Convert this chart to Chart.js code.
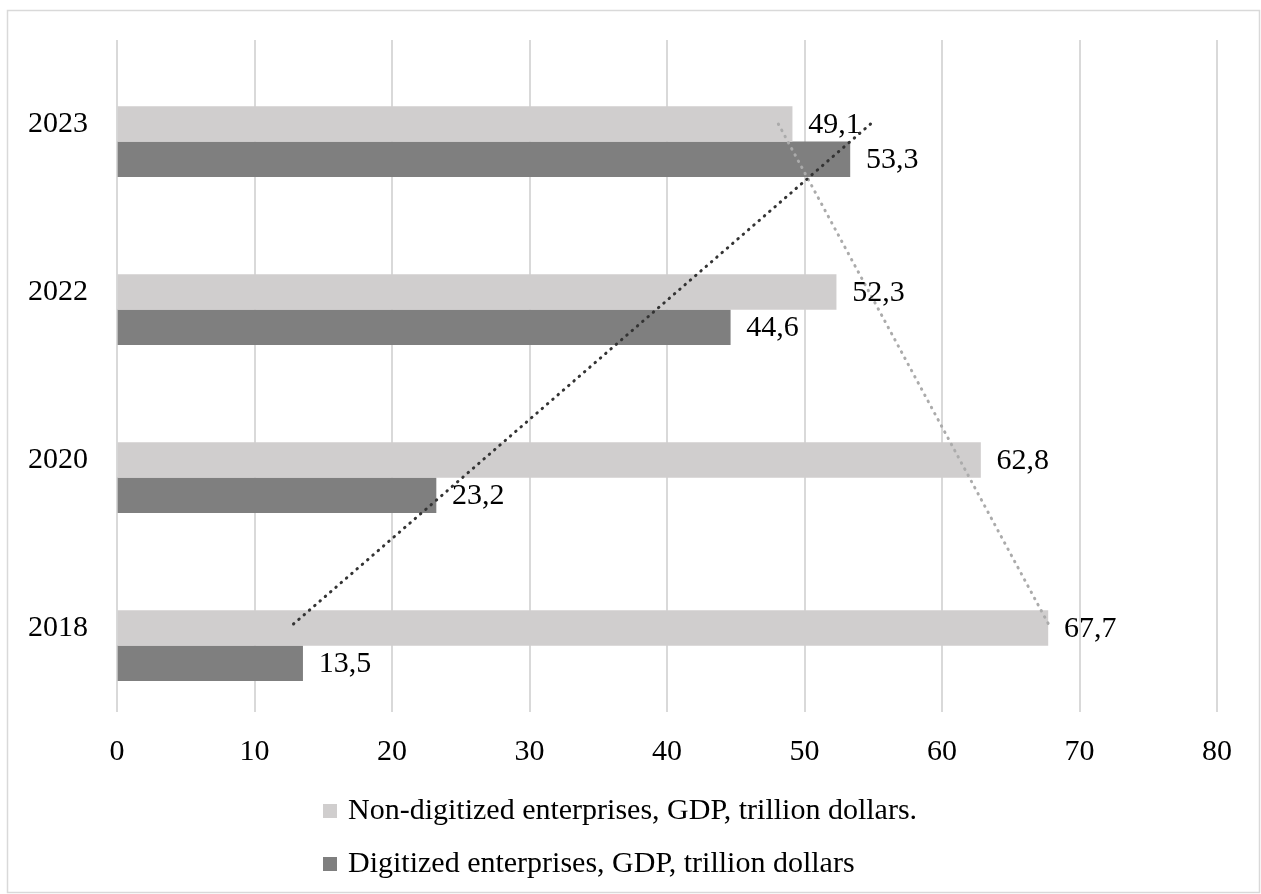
<!DOCTYPE html>
<html>
<head>
<meta charset="utf-8">
<script src="https://cdn.jsdelivr.net/npm/chart.js@4"></script>
<style>
  html, body { margin: 0; padding: 0; background: #fff; }
  canvas { display: block; }
</style>
</head>
<body>
<canvas id="gdpChart" width="1261" height="894"></canvas>
<script>
// Données du graphique
const years = ['2023', '2022', '2020', '2018'];
const nonDigitized = [49.1, 52.3, 62.8, 67.7];
const digitized = [53.3, 44.6, 23.2, 13.5];
// tendances (début 2023, fin 2018)
const nonDigitizedTrend = [48.1, 67.9];
const digitizedTrend = [54.8, 12.5];
const xTicks = [0, 10, 20, 30, 40, 50, 60, 70, 80];

const labelNonDigitized = 'Non-digitized enterprises, GDP, trillion dollars.';
const labelDigitized = 'Digitized enterprises, GDP, trillion dollars';

const FONT = "'Liberation Serif', 'Times New Roman', serif";
const barShift = 0.21; // décalage de la 2e barre (en catégories)

const frameAndLabels = {
    id: 'frameAndLabels',
    beforeDraw(chart) {
        const c = chart.ctx;
        c.save();
        c.fillStyle = '#fff';
        c.fillRect(0, 0, chart.width, chart.height);
        c.strokeStyle = '#d9d9d9';
        c.lineWidth = 1.5;
        c.strokeRect(7.5, 10.5, chart.width - 9, chart.height - 12);
        c.restore();
    },
    afterDatasetsDraw(chart) {
        const c = chart.ctx;
        c.save();
        c.font = '30px ' + FONT;
        c.fillStyle = '#000';
        c.textBaseline = 'middle';
        c.textAlign = 'left';
        chart.data.datasets.forEach((ds, i) => {
            if (ds.type !== 'bar') return;
            chart.getDatasetMeta(i).data.forEach((bar, j) => {
                const txt = ds.data[j].x.toFixed(1).replace('.', ',');
                c.fillText(txt, bar.x + 16, bar.y + 1);
            });
        });
        c.restore();
    },
    afterDraw(chart) {
        // légende alignée à gauche, une ligne par série
        const c = chart.ctx;
        const area = chart.chartArea;
        c.save();
        c.font = '30px ' + FONT;
        c.textBaseline = 'alphabetic';
        c.textAlign = 'left';
        let row = 0;
        chart.data.datasets.forEach(ds => {
            if (ds.type !== 'bar') return;
            const base = area.bottom + 107 + row * 53;
            c.fillStyle = ds.backgroundColor;
            c.fillRect(323, base - 15, 14, 14);
            c.fillStyle = '#000';
            c.fillText(ds.label, 348, base);
            row++;
        });
        c.restore();
    }
};

const ctx = document.getElementById('gdpChart').getContext('2d');
new Chart(ctx, {
    data: {
        datasets: [
            {
                type: 'line',
                label: 'trend digitized',
                data: [{ x: digitizedTrend[0], y: 0 }, { x: digitizedTrend[1], y: years.length - 1 }],
                borderColor: '#333333',
                borderWidth: 3,
                borderDash: [0.5, 6.5],
                borderCapStyle: 'round',
                pointRadius: 0,
                order: 0
            },
            {
                type: 'line',
                label: 'trend non-digitized',
                data: [{ x: nonDigitizedTrend[0], y: 0 }, { x: nonDigitizedTrend[1], y: years.length - 1 }],
                borderColor: '#ababab',
                borderWidth: 3,
                borderDash: [0.5, 6.5],
                borderCapStyle: 'round',
                pointRadius: 0,
                order: 0
            },
            {
                type: 'bar',
                label: labelNonDigitized,
                data: nonDigitized.map((v, i) => ({ x: v, y: i })),
                backgroundColor: '#d0cece',
                barThickness: 35,
                grouped: false,
                order: 1
            },
            {
                type: 'bar',
                label: labelDigitized,
                data: digitized.map((v, i) => ({ x: v, y: i + barShift })),
                backgroundColor: '#7f7f7f',
                barThickness: 35,
                grouped: false,
                order: 1
            }
        ]
    },
    options: {
        indexAxis: 'y',
        responsive: false,
        animation: false,
        devicePixelRatio: 1,
        layout: {
            padding: { top: 40, right: 44, bottom: 0, left: 0 }
        },
        plugins: {
            legend: { display: false },
            tooltip: { enabled: false },
            title: { display: false }
        },
        scales: {
            x: {
                type: 'linear',
                position: 'bottom',
                offset: false,
                min: xTicks[0],
                max: xTicks[xTicks.length - 1],
                afterBuildTicks: scale => { scale.ticks = xTicks.map(v => ({ value: v })); },
                afterFit: scale => { scale.height = 182; },
                grid: { color: '#d9d9d9', lineWidth: 2, drawTicks: false, offset: false },
                border: { display: false },
                ticks: {
                    color: '#000',
                    padding: 22,
                    font: { family: FONT, size: 30 }
                }
            },
            y: {
                type: 'linear',
                position: 'left',
                offset: false,
                reverse: true,
                min: -0.5,
                max: years.length - 0.5,
                afterBuildTicks: scale => { scale.ticks = years.map((_, i) => ({ value: i })); },
                afterFit: scale => {
                    scale.width = 117;
                    scale.paddingTop = 0;
                    scale.paddingBottom = 0;
                },
                grid: { display: false, drawTicks: false, offset: false },
                border: { display: false },
                ticks: {
                    color: '#000',
                    padding: 29,
                    font: { family: FONT, size: 30 },
                    callback: v => years[v]
                }
            }
        }
    },
    plugins: [frameAndLabels]
});
</script>
</body>
</html>
